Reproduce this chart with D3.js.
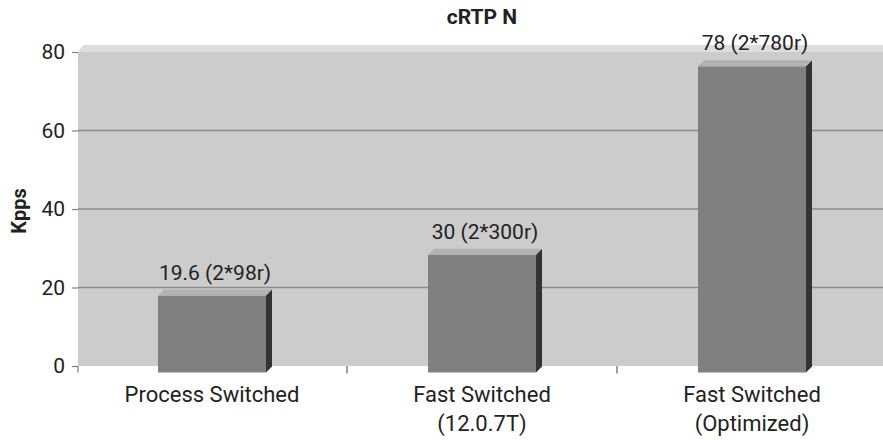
<!DOCTYPE html>
<html>
<head>
<meta charset="utf-8">
<script src="https://cdn.jsdelivr.net/npm/d3@7"></script>
<style>
  body { margin: 0; background: #fff; }
  text { font-family: Roboto, "Liberation Sans", sans-serif; fill: #222; }
</style>
</head>
<body>
<svg id="chart" width="883" height="440"></svg>
<script>
const categories = [["Process Switched"], ["Fast Switched", "(12.0.7T)"], ["Fast Switched", "(Optimized)"]];
const values = [19.6, 30, 78];
const valueLabels = ["19.6 (2*98r)", "30 (2*300r)", "78 (2*780r)"];
const yTicks = [0, 20, 40, 60, 80];

const svg = d3.select("#chart");
const width = +svg.attr("width");

// depth offset of the 3d look
const dx = 6, dy = -6;
const wallLeft = 78, wallRight = 883;

const x = d3.scaleBand()
  .domain(categories.map((d, i) => i))
  .range([77, 887])
  .paddingInner(0.6)
  .paddingOuter(0.3);

// front plane (bars) and back plane (wall / gridlines)
const yFront = d3.scaleLinear().domain([0, 80]).range([372.5, 58.5]);
const yBack = d3.scaleLinear().domain([0, 80]).range([366, 52]);

// title
svg.append("text")
  .attr("x", 482).attr("y", 24)
  .attr("text-anchor", "middle")
  .attr("font-size", 21).attr("font-weight", "bold")
  .text("cRTP N");

// y label
svg.append("text")
  .attr("transform", `translate(26,${yBack(40) + 2}) rotate(-90)`)
  .attr("text-anchor", "middle")
  .attr("font-size", 20).attr("font-weight", "bold")
  .text("Kpps");

// back wall
svg.append("rect")
  .attr("x", wallLeft).attr("y", yBack(80))
  .attr("width", wallRight - wallLeft).attr("height", yBack(0) - yBack(80))
  .attr("fill", "#cccccc");

// wall top edge
svg.append("polygon")
  .attr("points", [[wallLeft, yBack(80)], [wallLeft + 5, yBack(80) - 7], [wallRight, yBack(80) - 7], [wallRight, yBack(80)]].join(" "))
  .attr("fill", "#dedede");

// gridlines
svg.append("g")
  .selectAll("line")
  .data(yTicks.filter(d => d > 0 && d < 80))
  .join("line")
  .attr("x1", wallLeft).attr("x2", wallRight)
  .attr("y1", d => yBack(d)).attr("y2", d => yBack(d))
  .attr("stroke", "#8c8c8c").attr("stroke-width", 1.5);

// y axis
const yAxis = d3.axisLeft(yBack).tickValues(yTicks).tickSize(6).tickPadding(7);
const ya = svg.append("g")
  .attr("transform", `translate(${wallLeft},0)`)
  .call(yAxis);
ya.select(".domain").remove();
ya.selectAll(".tick line").attr("stroke", "#808080").attr("stroke-width", 1.2);
ya.selectAll(".tick text").attr("font-size", 21).attr("font-family", "Roboto, sans-serif").attr("fill", "#222");

// floor corner at 0
svg.append("line")
  .attr("x1", wallLeft).attr("x2", wallLeft)
  .attr("y1", yBack(0)).attr("y2", yFront(0))
  .attr("stroke", "#808080").attr("stroke-width", 1.2);

// x ticks between categories
const step = x.step();
const xTickPos = d3.range(1, categories.length).map(i => x(0) - x.paddingOuter() * step + i * step);
svg.append("g")
  .selectAll("line")
  .data(xTickPos)
  .join("line")
  .attr("x1", d => d).attr("x2", d => d)
  .attr("y1", yBack(0)).attr("y2", yFront(0) + 1)
  .attr("stroke", "#808080").attr("stroke-width", 1.5);

// bars
const bars = svg.append("g")
  .selectAll("g")
  .data(values)
  .join("g");

bars.append("rect")
  .attr("x", (d, i) => x(i))
  .attr("y", d => yFront(d))
  .attr("width", x.bandwidth())
  .attr("height", d => yFront(0) - yFront(d))
  .attr("fill", "#808080");

bars.append("polygon")
  .attr("points", (d, i) => {
    const x1 = x(i) + x.bandwidth();
    return [[x1, yFront(d)], [x1 + dx, yFront(d) + dy], [x1 + dx, yFront(0) + dy], [x1, yFront(0)]].join(" ");
  })
  .attr("fill", "#333333");

bars.append("polygon")
  .attr("points", (d, i) => {
    const x0 = x(i), x1 = x(i) + x.bandwidth();
    return [[x0, yFront(d)], [x0 + dx, yFront(d) + dy], [x1 + dx, yFront(d) + dy], [x1, yFront(d)]].join(" ");
  })
  .attr("fill", "#b2b2b2");

// value labels
bars.append("text")
  .attr("x", (d, i) => x(i) + x.bandwidth() / 2 + dx / 2)
  .attr("y", d => yFront(d) + dy - 10)
  .attr("text-anchor", "middle")
  .attr("font-size", 21)
  .text((d, i) => valueLabels[i]);

// category labels
const cl = svg.append("g")
  .selectAll("text")
  .data(categories)
  .join("text")
  .attr("x", (d, i) => x(i) + x.bandwidth() / 2)
  .attr("y", 402)
  .attr("text-anchor", "middle")
  .attr("font-size", 22);
cl.selectAll("tspan")
  .data(d => d)
  .join("tspan")
  .attr("x", function () { return d3.select(this.parentNode).attr("x"); })
  .attr("dy", (d, i) => i === 0 ? 0 : 29)
  .text(d => d);
</script>
</body>
</html>
